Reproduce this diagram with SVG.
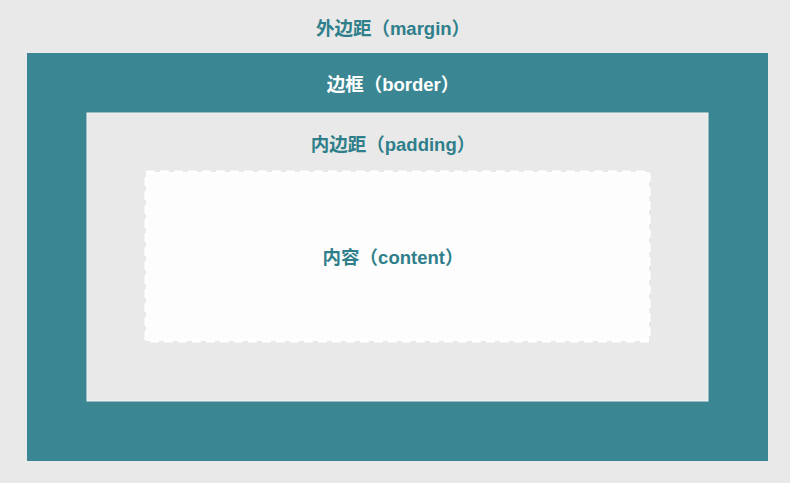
<svg xmlns="http://www.w3.org/2000/svg" width="790" height="483" viewBox="0 0 790 483">
<style>
.lbl{font-family:"Liberation Sans","Noto Sans CJK SC",Arial,sans-serif;font-weight:bold;font-size:18.5px;text-anchor:middle}
.teal{fill:#2f7f8b}
.white{fill:#ffffff}
</style>
<rect x="0" y="0" width="790" height="483" fill="#e9e9e9"/>
<g id="margin">
<text class="lbl teal" x="393" y="35">外边距（margin）</text>
</g>
<g id="border">
<rect x="27" y="53" width="741" height="408" fill="#3a8692"/>
<text class="lbl white" x="393" y="91">边框（border）</text>
</g>
<g id="padding">
<rect x="87" y="113" width="621" height="288" fill="#e9e9e9" stroke="#f4f4f4" stroke-width="1"/>
<text class="lbl teal" x="393" y="151">内边距（padding）</text>
</g>
<g id="content">
<rect x="146" y="172" width="503" height="169" fill="#fdfdfd" stroke="#ffffff" stroke-width="3" stroke-dasharray="9 5"/>
<text class="lbl teal" x="393" y="264">内容（content）</text>
</g>
<g id="connectors"/>
</svg>
